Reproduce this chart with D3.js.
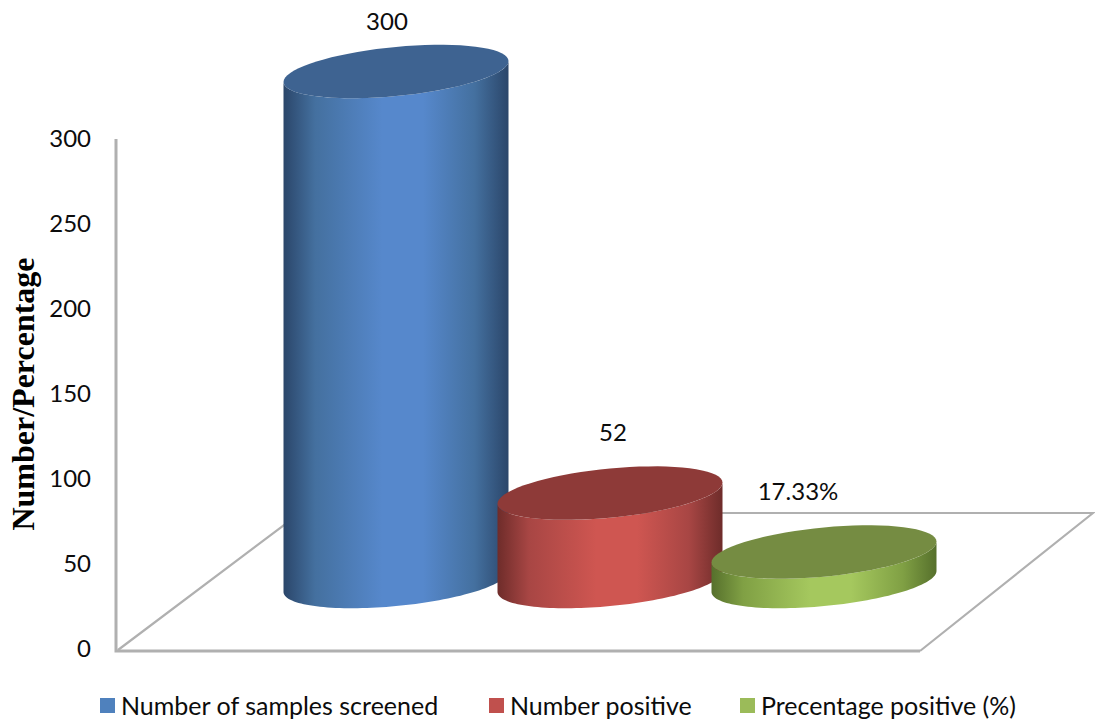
<!DOCTYPE html>
<html>
<head>
<meta charset="utf-8">
<script src="https://cdn.jsdelivr.net/npm/d3@7"></script>
<style>
  html, body { margin: 0; padding: 0; background: #fff; }
  svg { display: block; }
  text { fill: #0c0c0c; font-family: Lato, "Open Sans", sans-serif; }
  text.axis-title { font-family: "Liberation Serif", serif; font-weight: bold; fill: #000; }
</style>
</head>
<body>
<svg id="chart" width="1095" height="725"></svg>
<script>
// Chart data
const categories = ["Number of samples screened", "Number positive", "Precentage positive (%)"];
const values = [300, 52, 17.33];
const valueLabels = ["300", "52", "17.33%"];
const yTicks = [0, 50, 100, 150, 200, 250, 300];
const yTitle = "Number/Percentage";

// Series colours: edge shade, mid shade, highlight, lid and legend key
const palette = [
  { edge: "#2b466a", mid: "#44709f", light: "#5688cc", lid: "#3e6391", key: "#4f81bd" },
  { edge: "#6e2c2a", mid: "#a84644", light: "#cf5651", lid: "#8e3a38", key: "#c0504d" },
  { edge: "#56702c", mid: "#80a044", light: "#a5c85e", lid: "#758c42", key: "#9bbb59" }
];

// Layout
const svg = d3.select("#chart");
const y = d3.scaleLinear().domain([0, 300]).range([649, 139]);
const x = d3.scalePoint().domain(categories).range([396, 824]);
const wallX = 116;
const floorFront = 651;
const floorBack = 513;
const baseCenterY = 581.5;        // centre of every cylinder's base ellipse
const rx = 112.5, ry = 24.6, shear = 10.5;   // tilted ellipse of the cylinder caps
const labelNudge = [[-9, -51], [3, -62], [-26, -62]];
const legendX = [100, 489, 740];

// Gradients across the cylinder sides
const defs = svg.append("defs");
palette.forEach((c, i) => {
  const g = defs.append("linearGradient").attr("id", "side" + i)
    .attr("x1", 0).attr("x2", 1).attr("y1", 0).attr("y2", 0);
  [[0, c.edge], [0.14, c.mid], [0.44, c.light], [0.62, c.light], [0.85, c.mid], [1, c.edge]]
    .forEach(([o, col]) => g.append("stop").attr("offset", o).attr("stop-color", col));
});

// Floor and wall lines
const grid = svg.append("g").attr("fill", "none").attr("stroke", "#b0b0b0");
const lineGen = d3.line();
grid.append("path").attr("stroke-width", 3)
  .attr("d", lineGen([[wallX, y(300)], [wallX, floorFront], [920, floorFront]]));
grid.append("path").attr("stroke-width", 2.2)
  .attr("d", lineGen([[wallX + 2, floorFront - 1], [300, floorBack], [1093, floorBack], [920, floorFront]]));

// Points along a tilted cap ellipse, angle in radians
const capPoint = (cx, cy, t) => [
  cx + rx * Math.cos(t),
  cy + ry * Math.sin(t) - shear * Math.cos(t)
];
const angles = (a, b) => d3.range(0, 73).map(k => a + (b - a) * k / 72);

// Cylinders, back to front
const bars = svg.append("g").selectAll("g").data(values).join("g");

bars.append("path")
  .attr("fill", (d, i) => `url(#side${i})`)
  .attr("d", (d, i) => {
    const cx = x(categories[i]);
    const topY = baseCenterY - (y(0) - y(d));
    const lower = angles(Math.PI, 0).map(t => capPoint(cx, baseCenterY, t));
    const upper = angles(0, Math.PI).map(t => capPoint(cx, topY, t));
    return lineGen([...lower, ...upper]) + "Z";
  });

bars.append("path")
  .attr("fill", (d, i) => palette[i].lid)
  .attr("d", (d, i) => {
    const cx = x(categories[i]);
    const topY = baseCenterY - (y(0) - y(d));
    return lineGen(angles(0, 2 * Math.PI).map(t => capPoint(cx, topY, t))) + "Z";
  });

// Value labels above the caps
bars.append("text")
  .attr("text-anchor", "middle")
  .attr("dominant-baseline", "central")
  .attr("font-size", 24)
  .attr("x", (d, i) => x(categories[i]) + labelNudge[i][0])
  .attr("y", (d, i) => baseCenterY - (y(0) - y(d)) + labelNudge[i][1])
  .text((d, i) => valueLabels[i]);

// Value axis
const axis = svg.append("g")
  .attr("transform", `translate(${wallX},0)`)
  .call(d3.axisLeft(y).tickValues(yTicks).tickSize(0).tickPadding(25));
axis.select(".domain").remove();
axis.selectAll("text").attr("font-size", 24);

// Axis title
svg.append("text")
  .attr("class", "axis-title")
  .attr("transform", "translate(23,394) rotate(-90)")
  .attr("text-anchor", "middle")
  .attr("dominant-baseline", "central")
  .attr("font-size", 32)
  .text(yTitle);

// Legend
const legend = svg.append("g").selectAll("g").data(categories).join("g")
  .attr("transform", (d, i) => `translate(${legendX[i]},698)`);
legend.append("rect").attr("width", 15).attr("height", 15)
  .attr("fill", (d, i) => palette[i].key);
legend.append("text")
  .attr("x", 21).attr("y", 7)
  .attr("dominant-baseline", "central")
  .attr("font-size", 25)
  .text(d => d);
</script>
</body>
</html>
